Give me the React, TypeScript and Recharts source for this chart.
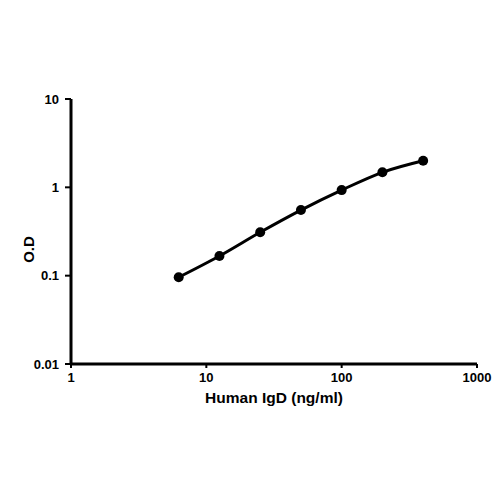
import React from "react";
import { LineChart, Line, XAxis, YAxis, Label } from "recharts";

// Human IgD standard curve (ng/ml vs O.D)
const concentrations = [6.25, 12.5, 25, 50, 100, 200, 400];
const odValues = [0.096, 0.167, 0.31, 0.553, 0.93, 1.48, 2.0];
const xTicks = [1, 10, 100, 1000];
const yTicks = [0.01, 0.1, 1, 10];

const data = concentrations.map((c, i) => ({ conc: c, od: odValues[i] }));

const font = "'Liberation Sans', Arial, sans-serif";
const tickStyle = { fontSize: 13, fontWeight: 700, fill: "#000", fontFamily: font };

export default function App() {
  return (
    <div style={{ position: "absolute", left: 0, top: 0, width: 500, height: 500, background: "#fff" }}>
      <LineChart
        width={500}
        height={500}
        data={data}
        margin={{ top: 99, right: 23, left: 40, bottom: 96 }}
      >
        <XAxis
          dataKey="conc"
          type="number"
          scale="log"
          domain={[1, 1000]}
          ticks={xTicks}
          allowDataOverflow
          height={40}
          stroke="#000"
          axisLine={{ stroke: "#000", strokeWidth: 3 }}
          tickLine={{ stroke: "#000", strokeWidth: 2 }}
          tickSize={4}
          tickMargin={5}
          tick={tickStyle}
        >
          <Label
            value="Human IgD (ng/ml)"
            position="bottom"
            offset={-12}
            style={{ fontSize: 15.5, fontWeight: 700, fill: "#000", fontFamily: font }}
          />
        </XAxis>
        <YAxis
          type="number"
          scale="log"
          domain={[0.01, 10]}
          ticks={yTicks}
          allowDataOverflow
          width={31}
          stroke="#000"
          axisLine={{ stroke: "#000", strokeWidth: 3 }}
          tickLine={{ stroke: "#000", strokeWidth: 2 }}
          tickSize={6}
          tickMargin={6}
          tick={tickStyle}
        >
          <Label
            value="O.D"
            angle={-90}
            position="insideLeft"
            offset={-11}
            dy={18}
            style={{ fontSize: 15, fontWeight: 700, fill: "#000", fontFamily: font, textAnchor: "middle" }}
          />
        </YAxis>
        <Line
          dataKey="od"
          type="monotone"
          stroke="#000"
          strokeWidth={3}
          dot={{ r: 5, fill: "#000", stroke: "#000", strokeWidth: 0 }}
          activeDot={false}
          isAnimationActive={false}
        />
      </LineChart>
    </div>
  );
}
